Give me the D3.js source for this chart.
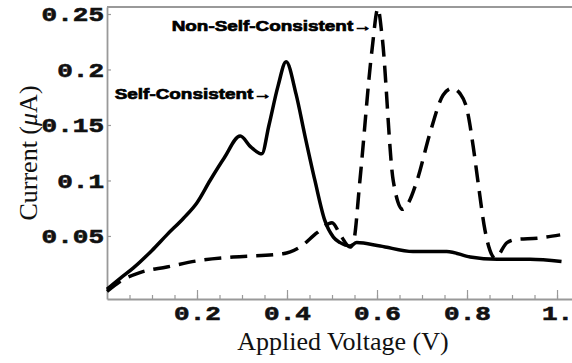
<!DOCTYPE html>
<html>
<head>
<meta charset="utf-8">
<script src="https://cdn.jsdelivr.net/npm/d3@7"></script>
<style>
  body { margin: 0; background: #fff; }
  svg { display: block; }
</style>
</head>
<body>
<div id="chart"></div>
<script>
// self-consistent (solid)
let voltsSC = [0, 0.03, 0.058, 0.1, 0.133, 0.17, 0.2, 0.229, 0.26, 0.296, 0.32, 0.344, 0.36, 0.38, 0.398, 0.42, 0.44, 0.462, 0.484, 0.503, 0.518, 0.54, 0.555, 0.607, 0.68, 0.755, 0.807, 0.867, 0.94, 1.01];
let currentSC = [0.002, 0.012, 0.021, 0.037, 0.051, 0.066, 0.080, 0.100, 0.120, 0.140, 0.130, 0.124, 0.150, 0.185, 0.207, 0.178, 0.140, 0.100, 0.064, 0.049, 0.044, 0.041, 0.044, 0.041, 0.036, 0.036, 0.031, 0.029, 0.029, 0.027];

// non-self-consistent (dashed)
let voltsNSC = [0, 0.029, 0.073, 0.133, 0.207, 0.28, 0.391, 0.429, 0.467, 0.50, 0.52, 0.54, 0.548, 0.562, 0.589, 0.602, 0.611, 0.636, 0.657, 0.67, 0.689, 0.718, 0.747, 0.767, 0.785, 0.8, 0.814, 0.824, 0.84, 0.851, 0.862, 0.889, 0.911, 0.956, 1.007];
let currentNSC = [0.000, 0.009, 0.017, 0.022, 0.028, 0.031, 0.034, 0.040, 0.053, 0.062, 0.050, 0.040, 0.045, 0.100, 0.218, 0.255, 0.231, 0.100, 0.074, 0.080, 0.100, 0.143, 0.177, 0.183, 0.178, 0.164, 0.130, 0.100, 0.055, 0.037, 0.030, 0.044, 0.047, 0.048, 0.051];

let yTicks = [0.05, 0.1, 0.15, 0.2, 0.25];
let yTickLabels = ["0.05", "0.1", "0.15", "0.2", "0.25"];
let xTicks = [0.2, 0.4, 0.6, 0.8, 1.0];
let xTickLabels = ["0.2", "0.4", "0.6", "0.8", "1."];
let xMinor = d3.range(1, 21).map(i => i * 0.05);

let width = 572, height = 363;
let svg = d3.select("#chart").append("svg")
  .attr("width", width)
  .attr("height", height);

let x = d3.scaleLinear().domain([0, 1.0333]).range([107, 572]);
let y = d3.scaleLinear().domain([-0.0068, 0.2563]).range([299, 7]);

let axisColor = "#999";
let monoFont = "'Liberation Mono', 'Courier New', monospace";

// frame top line
svg.append("line")
  .attr("x1", x(0)).attr("x2", x(1.0333))
  .attr("y1", y(0.2563)).attr("y2", y(0.2563))
  .attr("stroke", axisColor).attr("stroke-width", 1.8);

// minor x ticks
svg.append("g")
  .attr("transform", `translate(0,${y(-0.0068)})`)
  .call(d3.axisBottom(x).tickValues(xMinor).tickSizeInner(-4).tickSizeOuter(0).tickFormat(""))
  .call(g => g.select(".domain").remove())
  .call(g => g.selectAll("line").attr("stroke", axisColor).attr("stroke-width", 1.2));

// major x axis
svg.append("g")
  .attr("transform", `translate(0,${y(-0.0068)})`)
  .call(d3.axisBottom(x).tickValues(xTicks).tickSizeInner(-9).tickSizeOuter(0)
    .tickFormat((d, i) => xTickLabels[i]))
  .call(g => g.select(".domain").attr("stroke", axisColor).attr("stroke-width", 1.8))
  .call(g => g.selectAll("line").attr("stroke", axisColor).attr("stroke-width", 1.2))
  .call(g => g.selectAll("text")
    .attr("y", null).attr("dy", null)
    .attr("transform", "translate(0,21) scale(1.3,1)")
    .attr("text-anchor", "middle")
    .attr("font-family", monoFont)
    .attr("font-weight", "bold")
    .attr("font-size", 20)
    .attr("fill", "#111")
    .attr("stroke", "#111")
    .attr("stroke-width", 0.6));

// y axis
svg.append("g")
  .attr("transform", `translate(${x(0)},0)`)
  .call(d3.axisLeft(y).tickValues(yTicks).tickSizeInner(-4).tickSizeOuter(0)
    .tickFormat((d, i) => yTickLabels[i]))
  .call(g => g.select(".domain").attr("stroke", axisColor).attr("stroke-width", 1.8))
  .call(g => g.selectAll("line").attr("stroke", axisColor).attr("stroke-width", 1.2))
  .call(g => g.selectAll("text")
    .attr("x", null).attr("dy", null)
    .attr("transform", "translate(-3,7) scale(1.3,1)")
    .attr("text-anchor", "end")
    .attr("font-family", monoFont)
    .attr("font-weight", "bold")
    .attr("font-size", 20)
    .attr("fill", "#111")
    .attr("stroke", "#111")
    .attr("stroke-width", 0.6));

// curves
let line = d3.line()
  .x(d => x(d[0]))
  .y(d => y(d[1]))
  .curve(d3.curveMonotoneX);

svg.append("path")
  .datum(voltsSC.map((v, i) => [v, currentSC[i]]))
  .attr("d", line)
  .attr("fill", "none")
  .attr("stroke", "#000")
  .attr("stroke-width", 3.5)
  .attr("stroke-linejoin", "round");

svg.append("path")
  .datum(voltsNSC.map((v, i) => [v, currentNSC[i]]))
  .attr("d", line)
  .attr("fill", "none")
  .attr("stroke", "#000")
  .attr("stroke-width", 3.5)
  .attr("stroke-dasharray", "17,9");

// annotations
let notes = [
  { text: "Non-Self-Consistent\u2192", v: 0.589, c: 0.2347 },
  { text: "Self-Consistent\u2192", v: 0.367, c: 0.1734 }
];
svg.selectAll(".note")
  .data(notes)
  .join("text")
  .attr("class", "note")
  .attr("transform", d => `translate(${x(d.v)},${y(d.c)}) scale(1.26,1)`)
  .attr("text-anchor", "end")
  .attr("font-family", "'Liberation Sans', Arial, sans-serif")
  .attr("font-weight", "bold")
  .attr("font-size", 15)
  .attr("fill", "#000")
  .attr("stroke", "#000")
  .attr("stroke-width", 0.7)
  .text(d => d.text);

// axis titles
svg.append("text")
  .attr("x", 343)
  .attr("y", 350)
  .attr("text-anchor", "middle")
  .attr("font-family", "'Liberation Serif', 'Times New Roman', serif")
  .attr("font-size", 26)
  .attr("fill", "#111")
  .text("Applied Voltage (V)");

let yTitle = svg.append("text")
  .attr("transform", "translate(37,153) rotate(-90)")
  .attr("text-anchor", "middle")
  .attr("font-family", "'Liberation Serif', 'Times New Roman', serif")
  .attr("font-size", 26)
  .attr("fill", "#111");
yTitle.append("tspan").text("Current (");
yTitle.append("tspan").attr("font-style", "italic").text("\u03bc");
yTitle.append("tspan").text("A)");
</script>
</body>
</html>
